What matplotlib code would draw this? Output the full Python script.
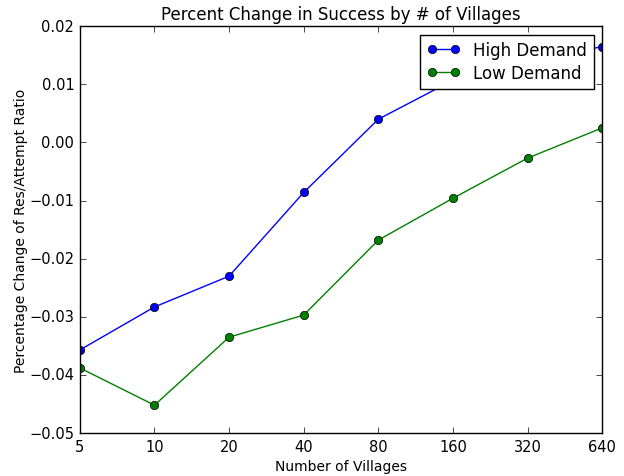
import numpy as np
from matplotlib import pyplot as plt

plt.style.use('classic')

villages = ['5', '10', '20', '40', '80', '160', '320', '640']
high_demand = [-0.0357, -0.0283, -0.0230, -0.0086, 0.0040, 0.0107, 0.0138, 0.0165]
low_demand = [-0.0388, -0.0452, -0.0335, -0.0297, -0.0168, -0.0096, -0.0027, 0.0025]


def plot_change():
    fig = plt.figure(figsize=(6.24, 4.77), dpi=100)
    fig.patch.set_facecolor('white')
    ax = fig.add_subplot(111)

    x = np.arange(len(villages))
    ax.plot(x, high_demand, 'bo-', label='High Demand')
    ax.plot(x, low_demand, 'go-', label='Low Demand')

    ax.set_xticks(x)
    ax.set_xticklabels(villages)
    ax.set_xlim(0, len(villages) - 1)
    ax.set_ylim(-0.05, 0.02)
    ax.tick_params(axis='both', which='major', labelsize=10.5)

    ax.set_title('Percent Change in Success by # of Villages', size=12)
    ax.set_xlabel('Number of Villages', size=10, labelpad=4)
    ax.set_ylabel('Percentage Change of Res/Attempt Ratio', size=10, labelpad=1)
    ax.legend(loc='upper right', fontsize=12, labelspacing=0.3)

    fig.subplots_adjust(left=0.128, right=0.965, top=0.943, bottom=0.09)
    plt.savefig('out.png', dpi=100)


if __name__ == '__main__':
    plot_change()
